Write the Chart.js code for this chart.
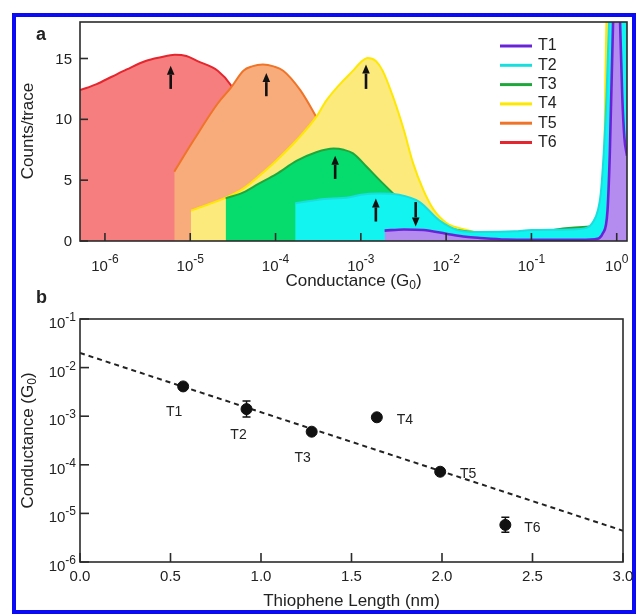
<!DOCTYPE html>
<html>
<head>
<meta charset="utf-8">
<script src="https://cdn.jsdelivr.net/npm/chart.js@4.4.0/dist/chart.umd.min.js"></script>
<style>
  body { margin: 0; background: #fff; }
  #frame { position: absolute; left: 12px; top: 13px; width: 624px; height: 601px; border: 4px solid #0a0af5; box-sizing: border-box; }
  #chartA { position: absolute; left: 0; top: 0; }
  #chartB { position: absolute; left: 0; top: 285px; }
</style>
</head>
<body>
<div id="frame"></div>
<canvas id="chartA" width="637" height="300"></canvas>
<canvas id="chartB" width="637" height="329"></canvas>
<script>
// ---- panel a: conductance histograms (x in G0, y in counts/trace)
var seriesNames = ["T1", "T2", "T3", "T4", "T5", "T6"];

var t1G = [1.9e-3, 3.2e-3, 5.4e-3, 1.0e-2, 1.7e-2, 2.5e-2, 5.0e-2, 1.0e-1, 3.2e-1, 5.6e-1, 6.9e-1, 7.8e-1, 8.3e-1, 9.1e-1, 0.96, 1.0, 1.05, 1.09, 1.16, 1.23, 1.32];
var t1Counts = [0.85, 0.95, 0.9, 0.6, 0.35, 0.25, 0.12, 0.1, 0.1, 0.15, 0.65, 2.5, 7.2, 18.5, 23, 24, 22, 18.5, 12, 8.5, 7];

var t2G = [1.7e-4, 3.2e-4, 7.4e-4, 1.0e-3, 1.66e-3, 2.8e-3, 4.9e-3, 8.3e-3, 1.45e-2, 2.5e-2, 6.3e-2, 1.0e-1, 2.8e-1, 4.5e-1, 5.2e-1, 6.0e-1, 6.6e-1, 7.6e-1, 8.2e-1, 0.9, 1.0, 1.15, 1.25, 1.32];
var t2Counts = [3.1, 3.4, 3.6, 3.8, 3.9, 3.8, 3.2, 1.7, 0.85, 0.75, 0.8, 0.9, 0.95, 1.1, 1.5, 2.5, 4.4, 12, 19, 23, 24, 23, 21, 19];

var t3G = [2.6e-5, 4.2e-5, 6.3e-5, 1.02e-4, 1.78e-4, 3.0e-4, 4.8e-4, 6.3e-4, 8.1e-4, 1.17e-3, 1.66e-3, 2.4e-3, 3.5e-3, 6.3e-3, 1.0e-2, 3.2e-2, 1.0e-1, 2.5e-1, 4.0e-1, 5.6e-1, 7.0e-1, 8.0e-1, 9.0e-1, 1.0, 1.2, 1.3];
var t3Counts = [3.5, 4.0, 4.7, 5.5, 6.6, 7.3, 7.6, 7.5, 7.2, 6.1, 5.0, 3.9, 2.8, 1.6, 1.1, 0.7, 0.7, 1.05, 1.15, 1.3, 3.0, 10, 20, 24, 21, 12];

var t4G = [1.02e-5, 2.7e-5, 4.2e-5, 6.3e-5, 1.02e-4, 1.78e-4, 3.0e-4, 3.9e-4, 5.7e-4, 8.1e-4, 1.0e-3, 1.2e-3, 1.5e-3, 1.8e-3, 2.4e-3, 3.2e-3, 4.1e-3, 5.4e-3, 7.1e-3, 1.0e-2, 1.74e-2, 3.2e-2, 1.0e-1, 3.2e-1, 5.0e-1, 6.3e-1, 7.0e-1, 7.6e-1, 0.85, 1.0, 1.32];
var t4Counts = [2.5, 3.6, 4.3, 5.3, 6.6, 8.3, 10.2, 11.5, 12.9, 14.0, 14.7, 15.05, 14.8, 14.0, 11.8, 9.1, 6.4, 4.2, 2.6, 1.5, 0.9, 0.5, 0.4, 0.6, 0.8, 1.5, 4, 18.5, 23, 24, 15];

var t5G = [6.5e-6, 1.1e-5, 2.1e-5, 3.0e-5, 4.2e-5, 5.3e-5, 7.1e-5, 9.5e-5, 1.23e-4, 1.95e-4, 3.0e-4, 4.4e-4, 6.3e-4];
var t5Counts = [5.7, 8.3, 11.3, 12.6, 14.0, 14.35, 14.5, 14.35, 14.0, 12.4, 10.2, 8.0, 5.0];

var t6G = [5.1e-7, 8.0e-7, 1.2e-6, 1.8e-6, 3.0e-6, 4.5e-6, 6.6e-6, 9.0e-6, 1.2e-5, 2.1e-5, 3.0e-5, 4.0e-5];
var t6Counts = [12.4, 12.9, 13.5, 14.1, 14.8, 15.1, 15.3, 15.2, 14.8, 14.0, 12.8, 11.0];

// arrows marking the peak of each histogram
var arrowG = [4.4e-3, 1.5e-3, 5.0e-4, 1.15e-3, 7.8e-5, 5.9e-6];
var arrowFrom = [3.2, 1.6, 5.1, 12.5, 11.9, 12.5];
var arrowTo = [1.2, 3.5, 7.0, 14.5, 13.8, 14.4];

var countTicks = [0, 5, 10, 15];
var decadeTicksA = [-6, -5, -4, -3, -2, -1, 0];

// ---- panel b: conductance vs length
var lengthNm = [0.57, 0.92, 1.28, 1.64, 1.99, 2.35];
var conductance = [4.1e-3, 1.4e-3, 4.8e-4, 9.5e-4, 7.2e-5, 5.8e-6];
var errLow = [3.7e-3, 0.96e-3, 4.8e-4, 9.5e-4, 6.7e-5, 4.1e-6];
var errHigh = [4.6e-3, 2.05e-3, 4.8e-4, 9.5e-4, 7.7e-5, 8.3e-6];
var fitX = [0, 3.0];
var fitG = [2.0e-2, 4.4e-6];
var lengthTicks = [0, 0.5, 1.0, 1.5, 2.0, 2.5, 3.0];
var decadeTicksB = [-6, -5, -4, -3, -2, -1];

var FONT = '"Liberation Sans", Arial, Helvetica, sans-serif';
var lineColors = ["#6a24d8", "#18dede", "#1ea83c", "#ffe800", "#f07428", "#e6262e"];
var fillColors = ["#b48cf0", "#12f4f0", "#06dc6e", "#fdea7c", "#f8ac7c", "#f67e7e"];

function points(xs, ys) {
  var out = [];
  for (var i = 0; i < xs.length; i++) out.push({ x: xs[i], y: ys[i] });
  return out;
}

// draw "10" with a raised exponent
function drawPow(ctx, exp, x, yBase, yExp, align) {
  ctx.font = '15px ' + FONT;
  var bw = ctx.measureText('10').width;
  var es = String(exp);
  ctx.font = '12px ' + FONT;
  var ew = ctx.measureText(es).width;
  var left = align === 'right' ? x - bw - ew : x - (bw + ew) / 2;
  ctx.textAlign = 'left';
  ctx.textBaseline = 'alphabetic';
  ctx.font = '15px ' + FONT;
  ctx.fillText('10', left, yBase);
  ctx.font = '12px ' + FONT;
  ctx.fillText(es, left + bw, yExp);
}

// "Conductance (G0)" style title with subscript
function drawSubTitle(ctx, pre, sub, post, cx, cy, vertical) {
  ctx.save();
  ctx.translate(cx, cy);
  if (vertical) ctx.rotate(-Math.PI / 2);
  ctx.textBaseline = 'middle';
  ctx.textAlign = 'left';
  ctx.font = '17px ' + FONT;
  var w1 = ctx.measureText(pre).width;
  var w3 = ctx.measureText(post).width;
  ctx.font = '12px ' + FONT;
  var w2 = ctx.measureText(sub).width;
  var x = -(w1 + w2 + w3) / 2;
  ctx.font = '17px ' + FONT;
  ctx.fillText(pre, x, 0);
  ctx.font = '12px ' + FONT;
  ctx.fillText(sub, x + w1, 5);
  ctx.font = '17px ' + FONT;
  ctx.fillText(post, x + w1 + w2, 0);
  ctx.restore();
}

function drawFrame(chart) {
  var a = chart.chartArea, ctx = chart.ctx;
  ctx.save();
  ctx.strokeStyle = '#2b2b2b';
  ctx.lineWidth = 1.6;
  ctx.strokeRect(a.left, a.top, a.right - a.left, a.bottom - a.top);
  ctx.restore();
}

function drawArrow(ctx, x, y0, y1) {
  var dir = y1 < y0 ? -1 : 1;
  var head = 9;
  ctx.beginPath();
  ctx.moveTo(x, y0);
  ctx.lineTo(x, y1 - dir * head);
  ctx.lineWidth = 2.6;
  ctx.stroke();
  ctx.beginPath();
  ctx.moveTo(x, y1);
  ctx.lineTo(x - 3.8, y1 - dir * head);
  ctx.lineTo(x + 3.8, y1 - dir * head);
  ctx.closePath();
  ctx.fill();
}

var panelA = {
  id: 'panelA',
  afterDatasetsDraw: function (chart) {
    var ctx = chart.ctx, xs = chart.scales.x, ys = chart.scales.y;
    ctx.save();
    ctx.fillStyle = '#111';
    ctx.strokeStyle = '#111';
    for (var i = 0; i < arrowG.length; i++) {
      drawArrow(ctx, xs.getPixelForValue(arrowG[i]), ys.getPixelForValue(arrowFrom[i]), ys.getPixelForValue(arrowTo[i]));
    }
    ctx.restore();
  },
  afterDraw: function (chart) {
    var ctx = chart.ctx, xs = chart.scales.x, ys = chart.scales.y, a = chart.chartArea;
    drawFrame(chart);
    ctx.save();
    ctx.strokeStyle = '#2b2b2b';
    ctx.fillStyle = '#222';
    ctx.lineWidth = 1.6;
    // inward ticks + labels
    decadeTicksA.forEach(function (e) {
      var px = xs.getPixelForValue(Math.pow(10, e));
      ctx.beginPath(); ctx.moveTo(px, a.bottom); ctx.lineTo(px, a.bottom - 8); ctx.stroke();
      drawPow(ctx, e, px, 271, 263, 'center');
    });
    countTicks.forEach(function (v) {
      var py = ys.getPixelForValue(v);
      ctx.beginPath(); ctx.moveTo(a.left, py); ctx.lineTo(a.left + 8, py); ctx.stroke();
      ctx.font = '15px ' + FONT;
      ctx.textAlign = 'right';
      ctx.textBaseline = 'middle';
      ctx.fillText(String(v), 72, py + 1);
    });
    drawSubTitle(ctx, 'Conductance (G', '0', ')', (a.left + a.right) / 2, 281, false);
    ctx.save();
    ctx.translate(28, 131);
    ctx.rotate(-Math.PI / 2);
    ctx.font = '17px ' + FONT;
    ctx.textAlign = 'center';
    ctx.textBaseline = 'middle';
    ctx.fillText('Counts/trace', 0, 0);
    ctx.restore();
    ctx.font = 'bold 18px ' + FONT;
    ctx.textAlign = 'left';
    ctx.textBaseline = 'middle';
    ctx.fillText('a', 36, 35);
    // legend
    chart.data.datasets.forEach(function (ds, i) {
      var y = 46 + i * 19.3;
      ctx.strokeStyle = ds.borderColor;
      ctx.lineWidth = 3;
      ctx.beginPath(); ctx.moveTo(500, y); ctx.lineTo(532, y); ctx.stroke();
      ctx.fillStyle = '#222';
      ctx.font = '16px ' + FONT;
      ctx.fillText(ds.label, 538, y);
    });
    ctx.restore();
  }
};

var labelOffsets = [[-9, 26], [-8, 26], [-9, 26], [28, 3], [28, 2], [27, 3]];

var panelB = {
  id: 'panelB',
  afterDatasetsDraw: function (chart) {
    var ctx = chart.ctx, xs = chart.scales.x, ys = chart.scales.y;
    ctx.save();
    ctx.strokeStyle = '#111';
    ctx.lineWidth = 1.5;
    for (var i = 0; i < lengthNm.length; i++) {
      if (errHigh[i] === errLow[i]) continue;
      var px = xs.getPixelForValue(lengthNm[i]);
      var p0 = ys.getPixelForValue(errLow[i]);
      var p1 = ys.getPixelForValue(errHigh[i]);
      ctx.beginPath();
      ctx.moveTo(px, p0); ctx.lineTo(px, p1);
      ctx.moveTo(px - 4, p0); ctx.lineTo(px + 4, p0);
      ctx.moveTo(px - 4, p1); ctx.lineTo(px + 4, p1);
      ctx.stroke();
    }
    ctx.restore();
  },
  afterDraw: function (chart) {
    var ctx = chart.ctx, xs = chart.scales.x, ys = chart.scales.y, a = chart.chartArea;
    drawFrame(chart);
    ctx.save();
    ctx.strokeStyle = '#2b2b2b';
    ctx.fillStyle = '#222';
    ctx.lineWidth = 1.6;
    decadeTicksB.forEach(function (e) {
      var py = ys.getPixelForValue(Math.pow(10, e));
      ctx.beginPath(); ctx.moveTo(a.left, py); ctx.lineTo(a.left + 9, py); ctx.stroke();
      drawPow(ctx, e, 76, py + 9, py + 2, 'right');
    });
    lengthTicks.forEach(function (v) {
      var px = xs.getPixelForValue(v);
      ctx.beginPath(); ctx.moveTo(px, a.bottom); ctx.lineTo(px, a.bottom - 9); ctx.stroke();
      ctx.font = '15px ' + FONT;
      ctx.textAlign = 'center';
      ctx.textBaseline = 'middle';
      ctx.fillText(v.toFixed(1), px, a.bottom + 15);
    });
    // point labels
    ctx.font = '14px ' + FONT;
    for (var i = 0; i < lengthNm.length; i++) {
      ctx.fillText(seriesNames[i], xs.getPixelForValue(lengthNm[i]) + labelOffsets[i][0], ys.getPixelForValue(conductance[i]) + labelOffsets[i][1]);
    }
    ctx.font = '17px ' + FONT;
    ctx.textAlign = 'center';
    ctx.fillText('Thiophene Length (nm)', (a.left + a.right) / 2, a.bottom + 39);
    drawSubTitle(ctx, 'Conductance (G', '0', ')', 28, (a.top + a.bottom) / 2, true);
    ctx.font = 'bold 18px ' + FONT;
    ctx.textAlign = 'left';
    ctx.textBaseline = 'middle';
    ctx.fillText('b', 36, 13);
    ctx.restore();
  }
};

var histX = [t1G, t2G, t3G, t4G, t5G, t6G];
var histY = [t1Counts, t2Counts, t3Counts, t4Counts, t5Counts, t6Counts];
var histDatasets = seriesNames.map(function (name, i) {
  return {
    label: name,
    data: points(histX[i], histY[i]),
    borderColor: lineColors[i],
    backgroundColor: fillColors[i],
    borderWidth: i === 0 ? 2.6 : 2,
    fill: 'origin',
    pointRadius: 0,
    cubicInterpolationMode: 'monotone'
  };
});

new Chart(document.getElementById('chartA'), {
  type: 'line',
  data: { datasets: histDatasets },
  options: {
    responsive: false,
    animation: false,
    events: [],
    layout: { padding: { top: 22, right: 10, left: 0, bottom: 0 } },
    plugins: { legend: { display: false }, tooltip: { enabled: false } },
    scales: {
      x: {
        type: 'logarithmic', min: 5.1e-7, max: 1.32,
        grid: { display: false }, border: { display: false },
        ticks: { display: false },
        afterFit: function (s) { s.height = 59; }
      },
      y: {
        type: 'linear', min: 0, max: 18,
        grid: { display: false }, border: { display: false },
        ticks: { display: false },
        afterFit: function (s) { s.width = 80; }
      }
    }
  },
  plugins: [panelA]
});

new Chart(document.getElementById('chartB'), {
  type: 'scatter',
  data: {
    datasets: [
      {
        label: 'data',
        data: points(lengthNm, conductance),
        backgroundColor: '#111',
        borderColor: '#111',
        pointRadius: 5.5,
        showLine: false
      },
      {
        label: 'fit',
        data: points(fitX, fitG),
        showLine: true,
        borderColor: '#222',
        borderWidth: 2,
        borderDash: [5, 4],
        pointRadius: 0
      }
    ]
  },
  options: {
    responsive: false,
    animation: false,
    events: [],
    layout: { padding: { top: 34, right: 14, left: 0, bottom: 0 } },
    plugins: { legend: { display: false }, tooltip: { enabled: false } },
    scales: {
      x: {
        type: 'linear', min: 0, max: 3,
        grid: { display: false }, border: { display: false },
        ticks: { display: false },
        afterFit: function (s) { s.height = 52; }
      },
      y: {
        type: 'logarithmic', min: 1e-6, max: 1e-1,
        grid: { display: false }, border: { display: false },
        ticks: { display: false },
        afterFit: function (s) { s.width = 80; }
      }
    }
  },
  plugins: [panelB]
});
</script>
</body>
</html>
